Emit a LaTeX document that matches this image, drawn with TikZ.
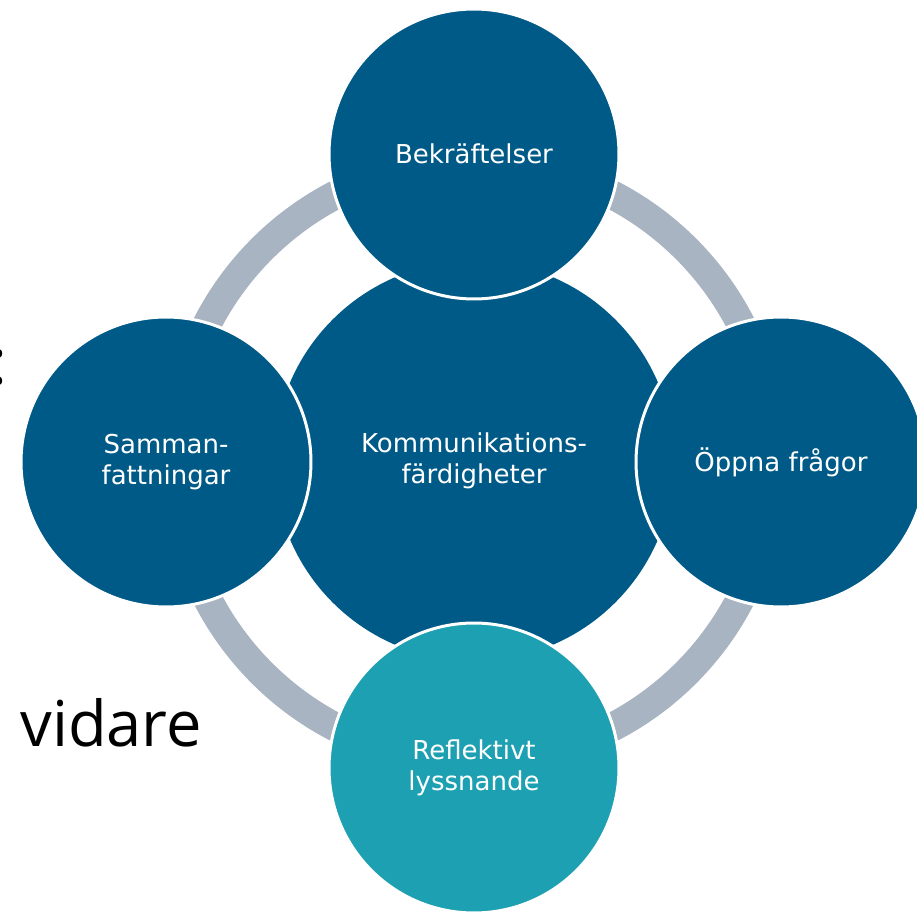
\documentclass[tikz,border=0pt]{standalone}
\usepackage{fontspec}
\setmainfont{DejaVu Sans}
\newfontfamily\vidarefont{Open Sans}
\usetikzlibrary{backgrounds}

\definecolor{skillblue}{HTML}{005A87}
\definecolor{skillteal}{HTML}{1DA0B2}
\definecolor{ringgray}{HTML}{A9B4C2}

\tikzset{
  skill/.style={circle, fill=skillblue, text=white, align=center, inner sep=0pt,
    font=\fontsize{14.8}{17.5}\selectfont},
  part/.style={skill, minimum size=5.8cm, draw=white, line width=1.7pt},
}

\begin{document}
\begin{tikzpicture}[x=0.02cm, y=-0.02cm]
\useasboundingbox (0,0) rectangle (917,912);

\path (474,461) coordinate (mid);
% ring behind the circles
\draw[ringgray, line width=16.4pt] (mid) circle[radius=6cm];

\path (474,461) node[skill, minimum size=8cm] (komm) {Kommunikations-\\f\"ardigheter}
      (474,154) node[part] (bekr) {Bekr\"aftelser}
      (781,462) node[part] (oppna) {\"Oppna fr\aa gor}
      (166,462) node[part] (samman) {Samman-\\fattningar}
      (474,768) node[part, fill=skillteal] (refl) {Reflektivt\\lyssnande};

\path (8,385) node[anchor=base east, inner sep=0pt, font=\vidarefont\fontsize{36}{40}\selectfont] (colon) {:}
      (20,746) node[anchor=base west, inner sep=0pt, font=\vidarefont\fontsize{36}{40}\selectfont] (vidare) {vidare};

\end{tikzpicture}
\end{document}
